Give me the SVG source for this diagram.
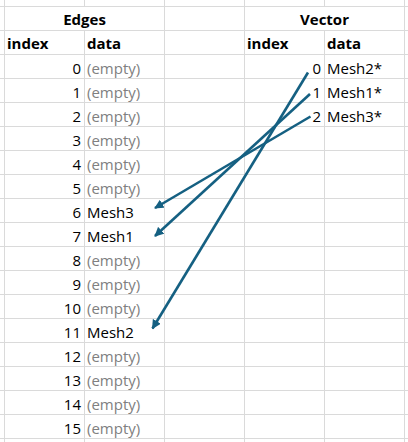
<svg xmlns="http://www.w3.org/2000/svg" width="408" height="442" viewBox="0 0 408 442">
<style>
.grid line{stroke:#dadada;stroke-width:1}
text{font-family:"Open Sans","Liberation Sans",sans-serif;font-size:15px;fill:#000}
.b{font-weight:bold}
.num{text-anchor:end}
.mid{text-anchor:middle}
.e{fill:#808080}
.conn line{stroke:#156082;stroke-width:2.6;fill:none}
</style>
<defs>
<marker id="ah" viewBox="0 0 10 10" refX="9" refY="5" markerWidth="3.6" markerHeight="3.6" orient="auto" markerUnits="strokeWidth">
<path d="M0,0 L10,5 L0,10 z" fill="#156082"/>
</marker>
</defs>
<rect width="408" height="442" fill="#fff"/>
<g class="grid">
<line x1="0" y1="6.5" x2="408" y2="6.5"/>
<line x1="0" y1="30.5" x2="408" y2="30.5"/>
<line x1="0" y1="54.5" x2="408" y2="54.5"/>
<line x1="0" y1="78.5" x2="408" y2="78.5"/>
<line x1="0" y1="102.5" x2="408" y2="102.5"/>
<line x1="0" y1="126.5" x2="408" y2="126.5"/>
<line x1="0" y1="150.5" x2="408" y2="150.5"/>
<line x1="0" y1="174.5" x2="408" y2="174.5"/>
<line x1="0" y1="198.5" x2="408" y2="198.5"/>
<line x1="0" y1="222.5" x2="408" y2="222.5"/>
<line x1="0" y1="246.5" x2="408" y2="246.5"/>
<line x1="0" y1="270.5" x2="408" y2="270.5"/>
<line x1="0" y1="294.5" x2="408" y2="294.5"/>
<line x1="0" y1="318.5" x2="408" y2="318.5"/>
<line x1="0" y1="342.5" x2="408" y2="342.5"/>
<line x1="0" y1="366.5" x2="408" y2="366.5"/>
<line x1="0" y1="390.5" x2="408" y2="390.5"/>
<line x1="0" y1="414.5" x2="408" y2="414.5"/>
<line x1="0" y1="438.5" x2="408" y2="438.5"/>
<line x1="4.5" y1="0" x2="4.5" y2="442"/>
<line x1="84.5" y1="0" x2="84.5" y2="6"/>
<line x1="84.5" y1="30" x2="84.5" y2="442"/>
<line x1="164.5" y1="0" x2="164.5" y2="442"/>
<line x1="244.5" y1="0" x2="244.5" y2="442"/>
<line x1="324.5" y1="0" x2="324.5" y2="6"/>
<line x1="324.5" y1="30" x2="324.5" y2="442"/>
<line x1="404.5" y1="0" x2="404.5" y2="442"/>
</g>
<g id="edges-header">
<text class="b mid" x="84.5" y="25">Edges</text>
<text class="b" x="7" y="49">index</text>
<text class="b" x="87" y="49">data</text>
</g>
<g id="vector-header">
<text class="b mid" x="324.5" y="25">Vector</text>
<text class="b" x="247" y="49">index</text>
<text class="b" x="327" y="49">data</text>
</g>
<g id="edges-0"><text class="num" x="81" y="74">0</text><text class="e" x="87" y="74">(empty)</text></g>
<g id="edges-1"><text class="num" x="81" y="98">1</text><text class="e" x="87" y="98">(empty)</text></g>
<g id="edges-2"><text class="num" x="81" y="122">2</text><text class="e" x="87" y="122">(empty)</text></g>
<g id="edges-3"><text class="num" x="81" y="146">3</text><text class="e" x="87" y="146">(empty)</text></g>
<g id="edges-4"><text class="num" x="81" y="170">4</text><text class="e" x="87" y="170">(empty)</text></g>
<g id="edges-5"><text class="num" x="81" y="194">5</text><text class="e" x="87" y="194">(empty)</text></g>
<g id="edges-6"><text class="num" x="81" y="218">6</text><text x="87" y="218">Mesh3</text></g>
<g id="edges-7"><text class="num" x="81" y="242">7</text><text x="87" y="242">Mesh1</text></g>
<g id="edges-8"><text class="num" x="81" y="266">8</text><text class="e" x="87" y="266">(empty)</text></g>
<g id="edges-9"><text class="num" x="81" y="290">9</text><text class="e" x="87" y="290">(empty)</text></g>
<g id="edges-10"><text class="num" x="81" y="314">10</text><text class="e" x="87" y="314">(empty)</text></g>
<g id="edges-11"><text class="num" x="81" y="338">11</text><text x="87" y="338">Mesh2</text></g>
<g id="edges-12"><text class="num" x="81" y="362">12</text><text class="e" x="87" y="362">(empty)</text></g>
<g id="edges-13"><text class="num" x="81" y="386">13</text><text class="e" x="87" y="386">(empty)</text></g>
<g id="edges-14"><text class="num" x="81" y="410">14</text><text class="e" x="87" y="410">(empty)</text></g>
<g id="edges-15"><text class="num" x="81" y="434">15</text><text class="e" x="87" y="434">(empty)</text></g>
<g id="vector-0"><text class="num" x="321" y="74">0</text><text x="327" y="74">Mesh2*</text></g>
<g id="vector-1"><text class="num" x="321" y="98">1</text><text x="327" y="98">Mesh1*</text></g>
<g id="vector-2"><text class="num" x="321" y="122">2</text><text x="327" y="122">Mesh3*</text></g>
<g id="connectors" class="conn">
<line x1="308" y1="72.5" x2="152.5" y2="328.5" marker-end="url(#ah)"/>
<line x1="310" y1="94" x2="155" y2="236" marker-end="url(#ah)"/>
<line x1="310.5" y1="116.5" x2="155" y2="208" marker-end="url(#ah)"/>
</g>
</svg>
